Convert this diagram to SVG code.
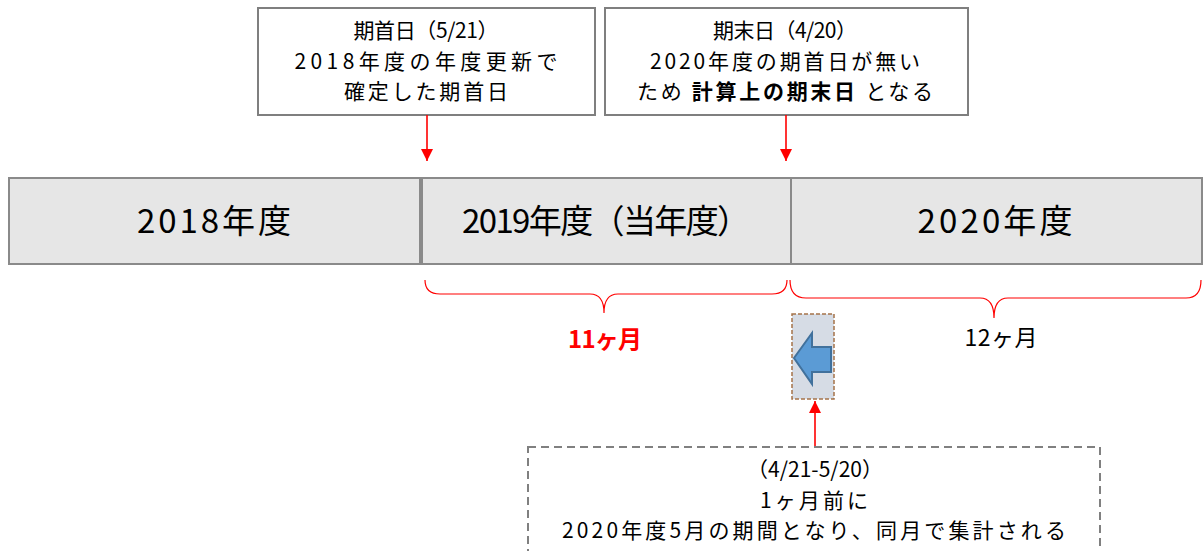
<svg xmlns="http://www.w3.org/2000/svg" width="1204" height="551" viewBox="0 0 1204 551">
<style>
text{font-family:"Noto Sans CJK JP","Noto Sans",sans-serif;fill:#000;text-anchor:middle}
.box{fill:#fff;stroke:#7f7f7f;stroke-width:2}
.year{fill:#e6e6e6;stroke:#8a8a8a;stroke-width:2}
.t22{font-size:21px}
.t32{font-size:33px}
.red{stroke:#ff0000;stroke-width:1.6;fill:none}
.brace{stroke:#ff0000;stroke-width:1.2;fill:none}
</style>
<defs>
<marker id="ah" viewBox="0 0 12 12" refX="12" refY="6" markerWidth="12" markerHeight="12" markerUnits="userSpaceOnUse" orient="auto">
<path d="M0,0 L12,6 L0,12 Z" fill="#ff0000"/>
</marker>
</defs>

<g id="box-start">
<rect class="box" x="258" y="8" width="337" height="107"/>
<text class="t22" x="426" y="38" textLength="145" lengthAdjust="spacing">期首日（5/21）</text>
<text class="t22" x="426" y="68.5" textLength="263" lengthAdjust="spacing">2018年度の年度更新で</text>
<text class="t22" x="426" y="99" textLength="164" lengthAdjust="spacing">確定した期首日</text>
</g>

<g id="box-end">
<rect class="box" x="605" y="8" width="363" height="107"/>
<text class="t22" x="785" y="38" textLength="144" lengthAdjust="spacing">期末日（4/20）</text>
<text class="t22" x="785" y="68.5" textLength="270" lengthAdjust="spacing">2020年度の期首日が無い</text>
<text class="t22" x="785" y="99" textLength="296" lengthAdjust="spacing">ため <tspan font-weight="bold">計算上の期末日</tspan> となる</text>
</g>

<g id="fy2018">
<rect class="year" x="9" y="178" width="411" height="86"/>
<text class="t32" x="214" y="233" textLength="154" lengthAdjust="spacing">2018年度</text>
</g>
<g id="fy2019">
<rect class="year" x="422" y="178" width="369" height="86"/>
<text class="t32" x="606" y="233" textLength="288" lengthAdjust="spacing">2019年度（当年度）</text>
</g>
<g id="fy2020">
<rect class="year" x="791" y="178" width="411" height="86"/>
<text class="t32" x="995" y="233" textLength="155" lengthAdjust="spacing">2020年度</text>
</g>

<g id="brace-11">
<path class="brace" d="M425,280 Q425,294 440,294 L590,294 Q604,294 604,313 Q604,294 618,294 L772,294 Q787,294 787,280"/>
<text x="605" y="348" font-size="24" font-weight="bold" style="fill:#ff0000" textLength="74" lengthAdjust="spacing">11ヶ月</text>
</g>

<g id="brace-12">
<path class="brace" d="M790,280 Q790,298 806,298 L980,298 Q994,298 994,318 Q994,298 1008,298 L1186,298 Q1201,298 1201,280"/>
<text x="1001" y="346" font-size="23" textLength="73" lengthAdjust="spacing">12ヶ月</text>
</g>

<g id="shift-marker">
<rect x="792" y="314" width="42" height="85" fill="#d6dce5" stroke="#a5734a" stroke-width="1.5" stroke-dasharray="4,2"/>
<path d="M794,358 L812,333 L812,347 L831,347 L831,372 L812,372 L812,384 Z" fill="#5b9bd5" stroke="#41719c" stroke-width="2" stroke-linejoin="miter"/>
</g>

<g id="note">
<rect x="528" y="447" width="572" height="120" fill="#fff" stroke="#808080" stroke-width="2" stroke-dasharray="8,5"/>
<text class="t22" x="815" y="477" textLength="136" lengthAdjust="spacing">（4/21-5/20）</text>
<text class="t22" x="814" y="507.5" textLength="108" lengthAdjust="spacing">1ヶ月前に</text>
<text class="t22" x="814" y="538" textLength="504" lengthAdjust="spacing">2020年度5月の期間となり、同月で集計される</text>
</g>

<g id="connectors">
<line class="red" x1="427" y1="115" x2="427" y2="161" marker-end="url(#ah)"/>
<line class="red" x1="786" y1="115" x2="786" y2="161" marker-end="url(#ah)"/>
<line class="red" x1="815" y1="446" x2="815" y2="401" marker-end="url(#ah)"/>
</g>
</svg>
